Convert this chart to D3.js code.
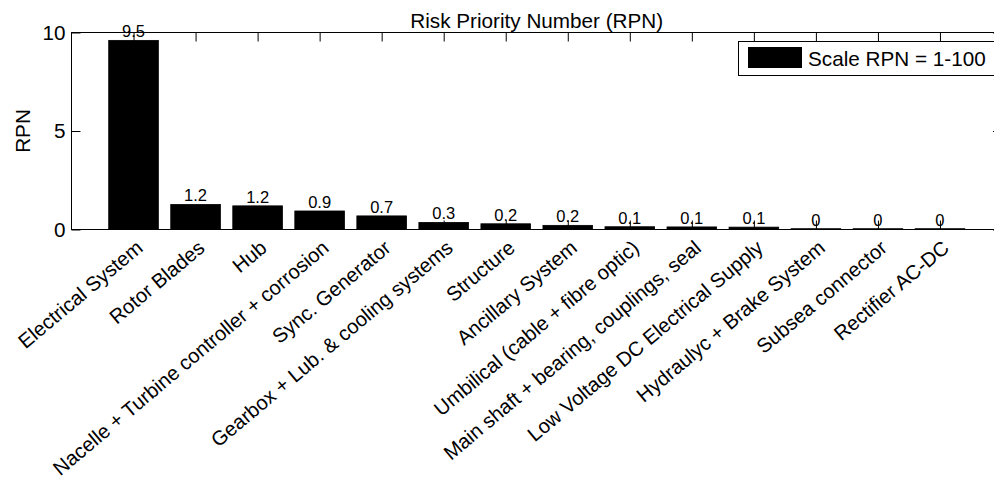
<!DOCTYPE html>
<html><head><meta charset="utf-8">
<script src="https://cdn.jsdelivr.net/npm/d3@7"></script>
<style>body{margin:0;background:#fff}svg{display:block}</style>
</head><body><svg id="c" width="994" height="479"></svg>
<script>
const categories = ["Electrical System","Rotor Blades","Hub","Nacelle + Turbine controller + corrosion","Sync. Generator","Gearbox + Lub. & cooling systems","Structure","Ancillary System","Umbilical (cable + fibre optic)","Main shaft + bearing, couplings, seal","Low Voltage DC Electrical Supply","Hydraulyc + Brake System","Subsea connector","Rectifier AC-DC"];
const values = [9.6, 1.27, 1.2, 0.94, 0.69, 0.36, 0.29, 0.21, 0.14, 0.13, 0.12, 0.04, 0.04, 0.04];
const valueLabels = ["9.5","1.2","1.2","0.9","0.7","0.3","0.2","0.2","0.1","0.1","0.1","0","0","0"];
const yTicks = [0, 5, 10];
const yDomain = [0, 10];
const chartTitle = "Risk Priority Number (RPN)";
const yTitle = "RPN";
const legendLabel = "Scale RPN = 1-100";

const font = "'Liberation Sans', Arial, Helvetica, sans-serif";
const fs = "20.7px";
const svg = d3.select("#c").style("font-family", font);
svg.append("rect").attr("width", 994).attr("height", 479).attr("fill", "#fff");

const L = 71.5, R = 1002, T = 32.5, B = 229.5;
const idx = d3.range(1, categories.length + 1);
const x = d3.scaleLinear().domain([0, categories.length + 1]).range([L, R]);
const y = d3.scaleLinear().domain(yDomain).range([B, T]);
const half = 0.4;

// bars
svg.append("g").selectAll("rect").data(values).join("rect")
  .attr("x", (d, i) => x(i + 1 - half))
  .attr("width", (d, i) => x(i + 1 + half) - x(i + 1 - half))
  .attr("y", d => y(d))
  .attr("height", d => y(0) - y(d))
  .attr("fill", "#000").attr("stroke", "#000").attr("stroke-width", 0.8);

// axes
const tk = 9;
const gB = svg.append("g").attr("transform", `translate(0,${B})`)
  .call(d3.axisBottom(x).tickValues(idx).tickSizeInner(-tk).tickSizeOuter(0)
    .tickFormat(i => categories[i - 1]));
const gT = svg.append("g").attr("transform", `translate(0,${T})`)
  .call(d3.axisTop(x).tickValues(idx).tickSizeInner(-tk).tickSizeOuter(0).tickFormat(""));
const gL = svg.append("g").attr("transform", `translate(${L},0)`)
  .call(d3.axisLeft(y).tickValues(yTicks).tickSizeInner(-tk).tickSizeOuter(0).tickPadding(6));
const gR = svg.append("g").attr("transform", `translate(${R},0)`)
  .call(d3.axisRight(y).tickValues(yTicks).tickSizeInner(-tk).tickSizeOuter(0).tickFormat(""));
[gB, gT, gL, gR].forEach(g => {
  g.select(".domain").remove();
  g.selectAll("line").attr("stroke", "#000").attr("stroke-width", 1);
  g.selectAll("text").attr("fill", "#000").style("font-size", fs).style("font-family", font);
});
gB.selectAll("text").attr("y", 0).attr("dy", 0)
  .attr("text-anchor", "end")
  .style("font-size", "20.2px")
  .attr("transform", "translate(10,20.5) rotate(-40)");
svg.append("rect").attr("x", L).attr("y", T).attr("width", R - L).attr("height", B - T)
  .attr("fill", "none").attr("stroke", "#000").attr("stroke-width", 1);

// value labels
svg.append("g").selectAll("text").data(values).join("text")
  .attr("x", (d, i) => x(i + 1))
  .attr("y", d => y(d) - 3)
  .attr("text-anchor", "middle")
  .style("font-size", "16.5px").attr("fill", "#000")
  .text((d, i) => valueLabels[i]);

// title
svg.append("text").attr("x", (L + R) / 2).attr("y", 28).attr("text-anchor", "middle")
  .style("font-size", fs).text(chartTitle);
// y label
svg.append("text").attr("transform", `translate(29.5,${(T + B) / 2}) rotate(-90)`)
  .attr("text-anchor", "middle").style("font-size", fs).text(yTitle);

// legend
const lg = svg.append("g");
lg.append("rect").attr("x", 738.5).attr("y", 41.5).attr("width", 256).attr("height", 34)
  .attr("fill", "#fff").attr("stroke", "#000").attr("stroke-width", 1);
lg.append("rect").attr("x", 748).attr("y", 47).attr("width", 54).attr("height", 21).attr("fill", "#000");
lg.append("text").attr("x", 808).attr("y", 66).style("font-size", fs).text(legendLabel);
</script></body></html>
